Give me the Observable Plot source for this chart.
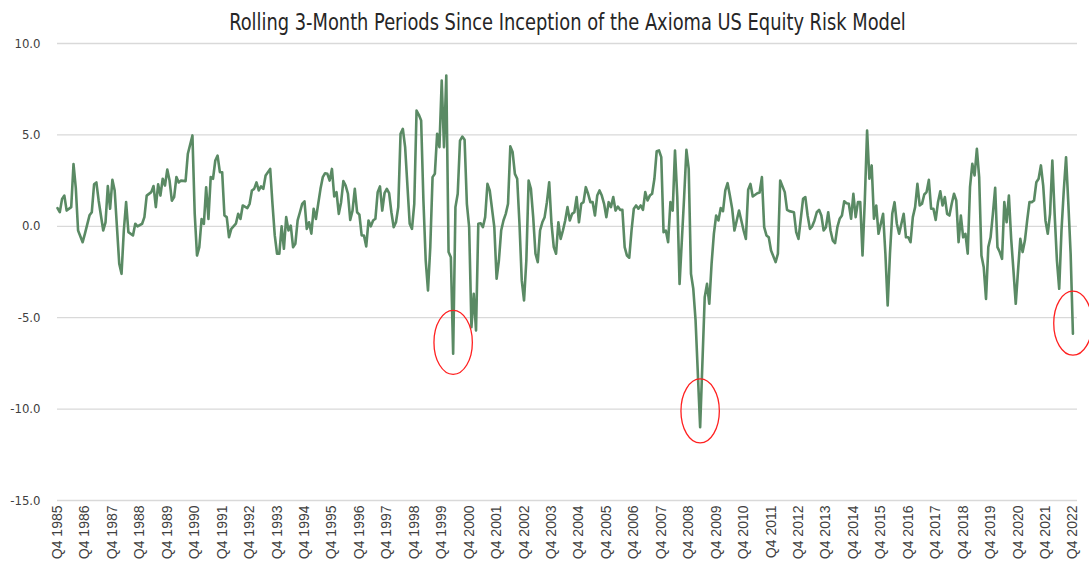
<!DOCTYPE html>
<html><head><meta charset="utf-8">
<script src="https://cdn.jsdelivr.net/npm/d3@7"></script>
<script src="https://cdn.jsdelivr.net/npm/@observablehq/plot@0.6"></script>
<style>
body{margin:0;background:#fff;width:1089px;height:563px;overflow:hidden;}
#title{height:36px;box-sizing:border-box;padding-left:45px;text-align:center;font-family:"Liberation Sans Narrow","DejaVu Sans Condensed",sans-serif;font-size:23px;line-height:44px;color:#262626;white-space:nowrap;}
#title span{display:inline-block;transform:scaleX(0.862);transform-origin:50% 50%;}
#chart svg{display:block;}
</style></head><body>
<div id="title"><span>Rolling 3-Month Periods Since Inception of the Axioma US Equity Risk Model</span></div>
<div id="chart"></div>
<script>
const monthIndex = [0,1,2,3,4,6,7,8,9,11,12,14,15,16,17,18,20,21,22,23,24,25,26,27,28,29,30,31,33,34,35,37,38,39,41,42,43,44,45,46,47,48,49,50,51,52,53,54,56,57,59,60,61,62,63,64,65,66,67,68,69,70,71,72,73,74,75,76,78,79,80,81,83,84,85,86,87,88,89,90,91,92,93,94,95,96,97,98,99,100,101,102,103,104,105,106,107,108,109,110,111,112,113,114,115,116,117,118,119,120,121,122,123,124,125,126,127,128,129,130,131,132,133,134,135,136,137,138,139,140,141,142,143,144,145,146,147,148,149,150,151,152,154,155,156,157,158,159,160,161,162,163,164,165,166,167,168,169,170,171,172,173,174,175,176,177,178,179,180,181,182,183,184,185,186,187,188,189,191,192,193,194,195,196,197,198,199,200,201,202,203,204,205,206,207,208,209,210,211,212,213,214,215,216,217,218,219,220,221,222,223,224,225,226,227,228,229,230,231,232,233,234,235,236,237,238,239,240,241,242,243,244,245,246,247,248,249,250,251,252,253,254,255,256,257,258,259,260,261,262,263,264,265,266,267,268,269,270,271,272,274,275,276,277,278,279,281,283,284,285,286,287,288,289,290,291,292,293,294,295,296,297,298,299,300,301,302,303,304,306,307,308,309,310,311,312,314,315,316,318,319,320,322,323,324,326,327,328,329,330,331,332,333,334,335,336,337,338,339,340,341,342,343,344,345,346,347,348,349,350,351,352,353,354,355,356,357,358,359,361,362,363,364,365,366,367,368,369,370,371,372,373,374,375,376,377,378,379,380,381,382,383,384,385,386,387,388,389,390,391,392,393,394,395,396,397,398,399,400,401,402,403,404,405,406,407,408,409,410,411,412,413,414,415,416,417,418,419,420,421,422,423,424,425,426,427,428,429,430,431,432,433,434,435,436,437,438,439,440,441,442,443,444];
const returns = [1.0,0.77,1.5,1.68,0.86,1.05,3.4,2.1,-0.23,-0.87,-0.4,0.6,0.77,2.3,2.4,1.4,-0.23,0.22,2.2,0.96,2.54,1.96,-0.05,-2.05,-2.6,-0.23,1.32,-0.32,-0.5,0.14,0,0.14,0.5,1.68,1.87,2.2,1.05,2.3,1.68,2.6,2.23,3.1,2.5,1.4,1.6,2.7,2.4,2.5,2.47,3.97,4.97,0.68,-1.6,-1.14,0.4,0.13,2.14,0.4,2.7,2.6,3.6,3.87,2.96,2.96,0.59,0.5,-0.6,-0.14,0.14,0.68,0.4,1.14,1.0,1.23,1.96,2.05,2.4,1.96,2.18,2.05,2.78,2.96,3.14,1.23,-0.5,-1.5,-1.5,0,-1.23,0.5,-0.23,0.04,-1.14,-0.96,0.32,0.77,1.23,1.37,-0.14,0.22,-0.4,0.96,0.4,1.23,2.05,2.69,2.9,2.87,2.5,3.14,1.63,1.87,0.68,1.32,2.47,2.23,1.78,0.35,0.86,2.05,0.77,0.64,-0.5,-0.5,-1.1,0.32,0,0.32,0.41,1.87,2.18,0.86,1.81,2.05,1.81,0.77,-0.05,0.22,1.05,5.06,5.33,4.33,0.14,-0.14,1.23,6.33,6.1,5.79,1.41,-1.87,-3.51,-1.14,2.69,2.87,5.06,4.33,7.98,4.33,8.25,-1.41,-1.69,-6.97,1.05,1.78,4.69,4.91,4.73,1.23,-0.05,-5.52,-3.69,-5.7,0.14,0.17,-0.05,0.5,2.32,1.96,-0.05,-2.87,-1.87,-0.23,0.32,0.68,1.23,4.37,4.06,2.87,2.6,0.14,-2.96,-4.06,-1.87,2.5,2.05,0.5,-1.5,-1.96,-0.23,0.22,0.5,1.32,2.41,0.14,-1.14,-1.5,0.22,-0.69,-0.23,0.32,1.05,0.32,0.68,0.77,1.6,0.22,1.23,1.32,2.14,1.78,1.32,1.32,0.59,1.68,1.96,1.68,1.23,0.5,1.32,1.05,1.6,0.86,1.08,0.9,0.9,-1.14,-1.6,-1.72,-0.23,0.96,1.14,0.96,1.14,0.9,1.87,1.41,1.68,1.78,2.6,4.11,4.15,3.78,-0.32,-0.23,-0.87,1.32,0.86,4.15,1.6,-3.15,1.6,4.18,3.14,-2.6,-3.42,-5.15,-10.99,-3.88,-3.15,-4.24,-2.05,-0.41,0.59,0.32,1.0,0.83,1.96,2.36,1.68,0.96,-0.23,0.32,0.86,0.32,-0.23,-0.69,2.0,2.32,1.63,1.81,1.85,2.69,-0.05,-0.5,-0.6,-1.32,-1.96,-1.5,2.5,1.87,0.9,0.83,0.77,-0.32,-0.69,1.5,1.6,0.59,-0.14,0,0.32,0.77,0.9,0.59,-0.23,-0.05,0.77,-0.23,-0.78,-0.92,-0.05,0.41,0.59,1.37,1.26,1.23,0.41,1.78,0.5,1.32,1.32,-1.6,1.41,5.24,2.6,3.33,0.41,1.14,-0.41,0.68,-1.5,-4.33,-1.5,0.68,1.32,0.14,-0.41,0.14,0.68,-0.6,-0.6,-0.87,0.5,1.05,2.32,1.14,1.23,1.74,1.87,2.54,0.96,0.96,0.35,1.32,1.92,1.14,1.6,0.68,0.59,1.23,1.78,1.41,-0.87,0.59,-0.6,-0.41,-1.5,2.14,3.42,2.78,4.24,2.69,-1.6,-2.24,-3.97,-1.14,-0.6,0.68,2.1,-1.14,-1.41,-1.78,1.32,0.22,1.68,-0.69,-2.42,-4.24,-2.42,-0.69,-1.41,-0.78,0.32,1.32,1.32,1.41,2.41,2.6,3.33,2.23,0.32,-0.41,0.68,3.6,0.68,-1.87,-3.42,-0.23,1.96,3.78,1.23,-1.5,-5.88];
const tickLabels = ["Q4 1985","Q4 1986","Q4 1987","Q4 1988","Q4 1989","Q4 1990","Q4 1991","Q4 1992","Q4 1993","Q4 1994","Q4 1995","Q4 1996","Q4 1997","Q4 1998","Q4 1999","Q4 2000","Q4 2001","Q4 2002","Q4 2003","Q4 2004","Q4 2005","Q4 2006","Q4 2007","Q4 2008","Q4 2009","Q4 2010","Q4 2011","Q4 2012","Q4 2013","Q4 2014","Q4 2015","Q4 2016","Q4 2017","Q4 2018","Q4 2019","Q4 2020","Q4 2021","Q4 2022"];
const tickMonths = [0,12,24,36,48,60,72,84,96,108,120,132,144,156,168,180,192,204,216,228,240,252,264,276,288,300,312,324,336,348,360,372,384,396,408,420,432,444];
const yTicks = [10, 5, 0, -5, -10, -15];
const highlightMonth = [173, 281, 444];
const highlightValue = [-6.35, -10.1, -5.3];

const data = monthIndex.map((m, i) => ({m, v: returns[i]}));
const highlights = highlightMonth.map((m, i) => ({m, v: highlightValue[i]}));
const xLabel = d => tickLabels[tickMonths.indexOf(d)];
const yFmt = d => d.toFixed(1);

const ellipse = {
  draw(ctx, size) {
    const ry = Math.sqrt(size / Math.PI), rx = ry * 0.6, k = 0.5523;
    ctx.moveTo(rx, 0);
    ctx.bezierCurveTo(rx, k * ry, k * rx, ry, 0, ry);
    ctx.bezierCurveTo(-k * rx, ry, -rx, k * ry, -rx, 0);
    ctx.bezierCurveTo(-rx, -k * ry, -k * rx, -ry, 0, -ry);
    ctx.bezierCurveTo(k * rx, -ry, rx, -k * ry, rx, 0);
    ctx.closePath();
  }
};

const chart = Plot.plot({
  width: 1089, height: 527,
  marginLeft: 57, marginRight: 12, marginTop: 7, marginBottom: 63,
  x: {domain: [0, 446]},
  y: {domain: [-15, 10]},
  style: {background: "#fff"},
  marks: [
    Plot.ruleY(yTicks, {stroke: "#d9d9d9", strokeWidth: 1.3}),
    Plot.axisY({ticks: yTicks, tickFormat: yFmt, tickSize: 0, tickPadding: 17, label: null,
      fontSize: 13, fontFamily: "'Liberation Sans Narrow','DejaVu Sans Condensed',sans-serif", fill: "#404040"}),
    Plot.axisX({ticks: tickMonths, tickFormat: xLabel, tickSize: 0, tickPadding: 5, tickRotate: -90, label: null,
      fontSize: 14, fontFamily: "'Liberation Sans',Arial,sans-serif", fill: "#404040"}),
    Plot.line(data, {x: "m", y: "v", stroke: "#5a8a64", strokeWidth: 2.6, strokeLinejoin: "round"}),
    Plot.dot(highlights, {x: "m", y: "v", r: 32, symbol: ellipse, stroke: "#ff2020", fill: "none", strokeWidth: 1.3})
  ]
});
document.getElementById("chart").appendChild(chart);
</script>
</body></html>
